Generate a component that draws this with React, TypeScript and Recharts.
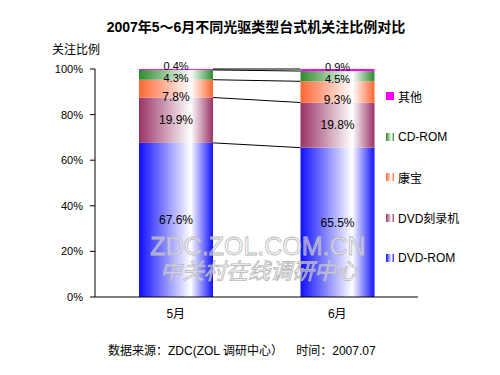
import { BarChart, Bar, XAxis, YAxis, Legend, LabelList } from 'recharts';

const months = ['5月', '6月'];
const dvdRom = [67.6, 65.5];
const dvdRw = [19.9, 19.8];
const combo = [7.8, 9.3];
const cdRom = [4.3, 4.5];
const other = [0.4, 0.9];
const yTicks = [0, 20, 40, 60, 80, 100];

const series = [
  { key: 'dvdRom', name: 'DVD-ROM', color: '#1010ff', values: dvdRom, solid: false, dy: 0 },
  { key: 'dvdRw', name: 'DVD刻录机', color: '#993366', values: dvdRw, solid: false, dy: 0 },
  { key: 'combo', name: '康宝', color: '#ff6633', values: combo, solid: false, dy: 8 },
  { key: 'cdRom', name: 'CD-ROM', color: '#2e8b2e', values: cdRom, solid: false, dy: 3 },
  { key: 'other', name: '其他', color: '#ff00ff', values: other, solid: true, dy: -3 },
];

const data = months.map((m, i) => {
  const row: any = { month: m };
  series.forEach((s) => (row[s.key] = s.values[i]));
  return row;
});

const FONT = "'Liberation Sans', Arial, 'Noto Sans CJK SC', sans-serif";

// right edge / top of the first bar of each series, used to draw series lines
const edges: Record<string, { x: number; y: number }> = {};

const makeShape = (key: string, solid: boolean, color: string) => (props: any) => {
  const { x, y, width, height, index } = props;
  const fill = solid ? color : `url(#grad-${key})`;
  const rect = <rect x={x} y={y} width={width} height={Math.max(height, 0)} fill={fill} />;
  if (index === 0) {
    edges[key] = { x: x + width, y };
    return rect;
  }
  const e = edges[key];
  return (
    <g>
      {rect}
      {e && <line x1={e.x} y1={e.y} x2={x} y2={y} stroke="#000" strokeWidth={1} />}
    </g>
  );
};

const LegendContent = () => (
  <div style={{ fontFamily: FONT, fontSize: 12 }}>
    {[...series].reverse().map((s) => (
      <div key={s.key} style={{ display: 'flex', alignItems: 'center', height: 40.5 }}>
        <span
          style={{
            display: 'inline-block',
            width: 8,
            height: 8,
            marginRight: 4,
            background: s.solid
              ? s.color
              : `linear-gradient(to right, ${s.color}, #fff 70%, ${s.color})`,
          }}
        />
        <span>{s.name}</span>
      </div>
    ))}
  </div>
);

export default function App() {
  return (
    <div style={{ position: 'absolute', left: 0, top: 0, width: 500, height: 375, background: '#fff', fontFamily: FONT }}>
      <div style={{ position: 'absolute', left: 0, width: 512, top: 16, textAlign: 'center', fontSize: 14, fontWeight: 'bold' }}>
        2007年5～6月不同光驱类型台式机关注比例对比
      </div>
      <div style={{ position: 'absolute', left: 52, top: 40, fontSize: 12 }}>关注比例</div>
      <BarChart
        width={500}
        height={375}
        data={data}
        margin={{ top: 69, right: 82, bottom: 48, left: 45 }}
        barSize={74}
      >
        <defs>
          {series.map((s) => (
            <linearGradient key={s.key} id={`grad-${s.key}`} x1="0" y1="0" x2="1" y2="0">
              <stop offset="0%" stopColor={s.color} />
              <stop offset="70%" stopColor="#ffffff" />
              <stop offset="100%" stopColor={s.color} />
            </linearGradient>
          ))}
        </defs>
        <XAxis
          dataKey="month"
          axisLine={{ stroke: '#000' }}
          tickLine={false}
          tickSize={0}
          tickMargin={12}
          height={30}
          tick={{ fill: '#000', fontSize: 12, fontFamily: FONT }}
        />
        <YAxis
          width={50}
          domain={[0, 100]}
          ticks={yTicks}
          tickFormatter={(v) => `${v}%`}
          axisLine={{ stroke: '#000' }}
          tickLine={{ stroke: '#000' }}
          tickSize={5}
          tickMargin={7}
          tick={{ fill: '#000', fontSize: 11, fontFamily: FONT }}
        />
        <Legend
          layout="horizontal"
          verticalAlign="middle"
          align="center"
          wrapperStyle={{ left: 386, top: 76, width: 110 }}
          content={<LegendContent />}
        />
        {series.map((s) => (
          <Bar
            key={s.key}
            dataKey={s.key}
            name={s.name}
            stackId="a"
            isAnimationActive={false}
            shape={makeShape(s.key, s.solid, s.color)}
          >
            <LabelList
              dataKey={s.key}
              position="center"
              formatter={(v: any) => `${Number(v).toFixed(1)}%`}
              fill="#000"
              fontSize={s.key === 'other' || s.key === 'cdRom' ? 11 : 12}
              fontFamily={FONT}
              dy={s.dy}
            />
          </Bar>
        ))}
      </BarChart>
      <svg style={{ position: 'absolute', left: 0, top: 0, pointerEvents: 'none' }} width={500} height={375}>
        <g fill="rgba(255,255,255,0.45)" stroke="#b8b8b8" strokeWidth={0.8} fontFamily={FONT} textAnchor="middle">
          <text x={258} y={255} fontSize={25}>ZDC.ZOL.COM.CN</text>
          <text x={259} y={279} fontSize={22} fontStyle="italic">中关村在线调研中心</text>
        </g>
      </svg>
      <div style={{ position: 'absolute', left: 108, top: 341, fontSize: 12, whiteSpace: 'pre' }}>
        数据来源：ZDC(ZOL 调研中心）    时间：2007.07
      </div>
    </div>
  );
}
